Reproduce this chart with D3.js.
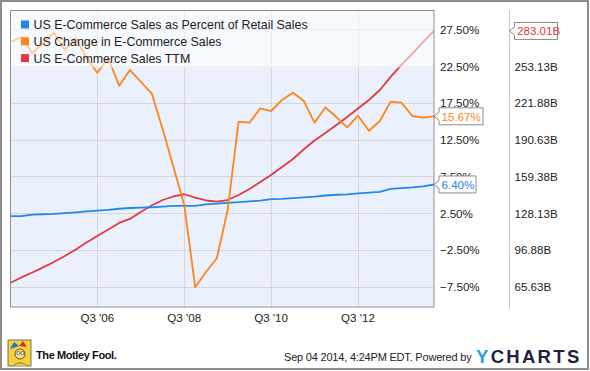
<!DOCTYPE html>
<html>
 <head>
  <meta charset="UTF-8">
  <title>US E-Commerce</title>
  <style>
    body { margin: 0; background: #fff; }
    text { font-family: "Liberation Sans", Arial, sans-serif; }
  </style>
 </head>
 <body>
<div id="viz-wrapper"></div>
 <script src="https://cdnjs.cloudflare.com/ajax/libs/d3/7.8.5/d3.min.js"></script>
 <script type="text/javascript">
    // quarterly data, Q3 2004 .. Q2 2014
    var firstQuarter = new Date(2004, 6, 1),
        lastQuarter = new Date(2014, 3, 1);

    // US E-Commerce Sales as Percent of Retail Sales (%)
    var pctRetail = [2.1, 2.1, 2.3, 2.35, 2.4, 2.5, 2.62, 2.75, 2.85, 2.95,
                     3.1, 3.2, 3.25, 3.3, 3.4, 3.5, 3.5, 3.5, 3.7, 3.8,
                     3.9, 4.0, 4.1, 4.2, 4.4, 4.45, 4.55, 4.65, 4.75, 4.9,
                     5.0, 5.05, 5.2, 5.3, 5.4, 5.8, 5.9, 6.0, 6.15, 6.40];

    // US Change in E-Commerce Sales (%)
    var pctChange = [25.77, 26.45, 24.24, 25.64, 27.06, 24.69, 26.32, 23.56, 21.60, 23.56,
                     19.83, 21.97, 20.37, 18.80, 13.94, 8.78, 3.61, -7.58, -5.46, -3.64,
                     2.93, 14.94, 14.80, 16.76, 16.39, 17.89, 18.88, 17.79, 14.80, 16.89,
                     15.57, 14.17, 15.75, 13.71, 15.03, 17.66, 17.52, 15.71, 15.48, 15.67];

    // US E-Commerce Sales TTM (billions)
    var salesTTM = [69.0, 73.5, 77.7, 82.0, 86.6, 91.7, 97.2, 103.2, 108.7, 114.2,
                    119.8, 123.2, 129.1, 134.6, 139.3, 142.3, 144.2, 141.3, 138.9, 137.9,
                    139.3, 143.6, 148.7, 154.6, 160.6, 167.4, 174.2, 182.2, 189.9, 196.3,
                    203.1, 209.9, 217.1, 224.3, 232.8, 243.9, 254.1, 263.8, 273.6, 283.01];

    var xTicks = [new Date(2006, 6, 1), new Date(2008, 6, 1), new Date(2010, 6, 1), new Date(2012, 6, 1)];
    var xTickLabels = ["Q3 '06", "Q3 '08", "Q3 '10", "Q3 '12"];
    var pctTicks = [27.5, 22.5, 17.5, 12.5, 7.5, 2.5, -2.5, -7.5];
    var ttmTicks = [253.13, 221.88, 190.63, 159.38, 128.13, 96.88, 65.63];

    var seriesNames = ["US E-Commerce Sales as Percent of Retail Sales",
                       "US Change in E-Commerce Sales",
                       "US E-Commerce Sales TTM"];
    var colors = ["#1f88e8", "#ff8418", "#e3383f"];

    var width = 590, height = 371;
    var plotL = 10.5, plotR = 434, plotT = 10.5, plotB = 307;

    var quarters = d3.timeMonth.range(firstQuarter, d3.timeMonth.offset(lastQuarter, 1), 3);

    var svg = d3.select("#viz-wrapper")
                .append("svg")
                .attr("width", width)
                .attr("height", height);

    var x = d3.scaleTime().domain([firstQuarter, lastQuarter]).range([plotL, plotR]);
    var yPct = d3.scaleLinear().domain([-7.5, 27.5]).range([286.7, 29.3]);
    var yTTM = d3.scaleLinear().domain([65.63, 253.13]).range([286.7, 66.08]);

    // outer frame
    svg.append("rect")
       .attr("x", 1).attr("y", 1)
       .attr("width", width - 3).attr("height", height - 3)
       .attr("fill", "#fff")
       .attr("stroke", "#8c8c8c")
       .attr("stroke-width", 2);

    // plot background
    svg.append("rect")
       .attr("x", plotL).attr("y", plotT)
       .attr("width", plotR - plotL).attr("height", plotB - plotT)
       .attr("fill", "#ebf1fc");

    // grid
    svg.append("g")
       .selectAll("line")
       .data(pctTicks)
       .enter()
       .append("line")
       .attr("x1", plotL).attr("x2", plotR)
       .attr("y1", function(d) { return Math.round(yPct(d)) + 0.5; })
       .attr("y2", function(d) { return Math.round(yPct(d)) + 0.5; })
       .attr("stroke", "#d6d6d6");

    svg.append("g")
       .selectAll("line")
       .data(xTicks)
       .enter()
       .append("line")
       .attr("x1", function(d) { return Math.round(x(d)) + 0.5; })
       .attr("x2", function(d) { return Math.round(x(d)) + 0.5; })
       .attr("y1", plotT).attr("y2", plotB)
       .attr("stroke", "#d6d6d6");

    // lines
    svg.append("clipPath").attr("id", "plotclip")
       .append("rect")
       .attr("x", plotL).attr("y", plotT)
       .attr("width", plotR - plotL).attr("height", plotB - plotT);

    var lines = svg.append("g").attr("clip-path", "url(#plotclip)");

    function drawLine(values, yScale, color) {
        var line = d3.line()
                     .x(function(d, i) { return x(quarters[i]); })
                     .y(function(d) { return yScale(d); });
        lines.append("path")
             .datum(values)
             .attr("d", line)
             .attr("fill", "none")
             .attr("stroke", color)
             .attr("stroke-width", 1.8)
             .attr("stroke-linejoin", "round");
    }

    drawLine(salesTTM, yTTM, colors[2]);
    drawLine(pctRetail, yPct, colors[0]);
    drawLine(pctChange, yPct, colors[1]);

    // legend (semi transparent over the lines)
    svg.append("rect")
       .attr("x", plotL).attr("y", plotT)
       .attr("width", plotR - plotL).attr("height", 57)
       .attr("fill", "#fff")
       .attr("fill-opacity", 0.55);

    var legend = svg.append("g")
                    .selectAll("g")
                    .data(seriesNames)
                    .enter()
                    .append("g")
                    .attr("transform", function(d, i) { return "translate(21," + (20.5 + i * 16.8) + ")"; });
    legend.append("rect")
          .attr("width", 8).attr("height", 8)
          .attr("fill", function(d, i) { return colors[i]; });
    legend.append("text")
          .attr("x", 12.5).attr("y", 8.5)
          .attr("font-size", 12.4)
          .attr("fill", "#222")
          .text(function(d) { return d; });

    // plot border
    svg.append("rect")
       .attr("x", plotL).attr("y", plotT)
       .attr("width", plotR - plotL).attr("height", plotB - plotT)
       .attr("fill", "none")
       .attr("stroke", "#8e8e8e");

    // divider between the two right axes
    svg.append("line")
       .attr("x1", 509.5).attr("x2", 509.5)
       .attr("y1", plotT).attr("y2", plotB + 2)
       .attr("stroke", "#c8c8c8");

    // percent axis labels on the right side
    svg.append("g")
       .selectAll("text")
       .data(pctTicks)
       .enter()
       .append("text")
       .attr("x", 440)
       .attr("y", function(d) { return yPct(d) + 4.5; })
       .attr("font-size", 11.6)
       .attr("fill", "#222")
       .text(function(d) { return d3.format(".2f")(d) + "%"; });

    svg.append("g")
       .selectAll("text")
       .data(ttmTicks)
       .enter()
       .append("text")
       .attr("x", 514.5)
       .attr("y", function(d) { return yTTM(d) + 4.5; })
       .attr("font-size", 11.6)
       .attr("fill", "#222")
       .text(function(d) { return d3.format(".2f")(d) + "B"; });

    // x axis labels
    svg.append("g")
       .selectAll("text")
       .data(xTicks)
       .enter()
       .append("text")
       .attr("x", function(d) { return x(d); })
       .attr("y", 322)
       .attr("text-anchor", "middle")
       .attr("font-size", 11.6)
       .attr("fill", "#222")
       .text(function(d, i) { return xTickLabels[i]; });

    // last value flags
    function flag(tipX, tipY, label, color, w) {
        var g = svg.append("g");
        var h = 17, bx = tipX + 5;
        g.append("path")
         .attr("d", "M" + tipX + "," + tipY +
                    " L" + bx + "," + (tipY - 4) +
                    " L" + bx + "," + (tipY - h / 2) +
                    " L" + (bx + w) + "," + (tipY - h / 2) +
                    " L" + (bx + w) + "," + (tipY + h / 2) +
                    " L" + bx + "," + (tipY + h / 2) +
                    " L" + bx + "," + (tipY + 4) + " Z")
         .attr("fill", "#fff")
         .attr("stroke", "#8a8a8a");
        g.append("text")
         .attr("x", bx + 2.5).attr("y", tipY + 4.3)
         .attr("font-size", 11.6)
         .attr("fill", color)
         .text(label);
    }
    var n = quarters.length - 1;
    flag(plotR, yPct(pctChange[n]), d3.format(".2f")(pctChange[n]) + "%", colors[1], 44);
    flag(plotR, yPct(pctRetail[n]), d3.format(".2f")(pctRetail[n]) + "%", colors[0], 37);
    flag(509.5, yTTM(salesTTM[n]), d3.format(".2f")(salesTTM[n]) + "B", colors[2], 43);

    // footer: motley fool logo
    var logo = svg.append("g").attr("transform", "translate(8,340)");
    logo.append("rect").attr("width", 23).attr("height", 26).attr("fill", "#f4d23c").attr("stroke", "#555").attr("stroke-width", 0.8);
    logo.append("path").attr("d", "M2,9 L6,2 L11,6 Z").attr("fill", "#2a6fd6");
    logo.append("path").attr("d", "M11,6 L15,1 L19,7 Z").attr("fill", "#d8322b");
    logo.append("circle").attr("cx", 12).attr("cy", 14).attr("r", 5).attr("fill", "#f7e08a").attr("stroke", "#333").attr("stroke-width", 0.8);
    logo.append("circle").attr("cx", 10.5).attr("cy", 13).attr("r", 1.6).attr("fill", "#fff").attr("stroke", "#222").attr("stroke-width", 0.6);
    logo.append("circle").attr("cx", 14.5).attr("cy", 13).attr("r", 1.6).attr("fill", "#fff").attr("stroke", "#222").attr("stroke-width", 0.6);
    logo.append("path").attr("d", "M5,26 Q12,19 20,26").attr("fill", "#e9c23a").attr("stroke", "#555").attr("stroke-width", 0.6);

    svg.append("text")
       .attr("x", 36).attr("y", 359)
       .attr("font-size", 11)
       .attr("font-weight", "bold")
       .attr("letter-spacing", -0.4)
       .attr("fill", "#111")
       .text("The Motley Fool.");

    svg.append("text")
       .attr("x", 284).attr("y", 361)
       .attr("font-size", 11)
       .attr("letter-spacing", -0.2)
       .attr("fill", "#222")
       .text("Sep 04 2014, 4:24PM EDT. Powered by");

    var yc = svg.append("text")
                .attr("x", 476).attr("y", 363)
                .attr("font-size", 18.5)
                .attr("font-weight", "bold")
                .attr("letter-spacing", 2.3)
                .attr("fill", "#1e2340");
    yc.append("tspan").attr("fill", "#2aa0dc").text("Y");
    yc.append("tspan").text("CHARTS");
 </script>
 </body>
</html>
